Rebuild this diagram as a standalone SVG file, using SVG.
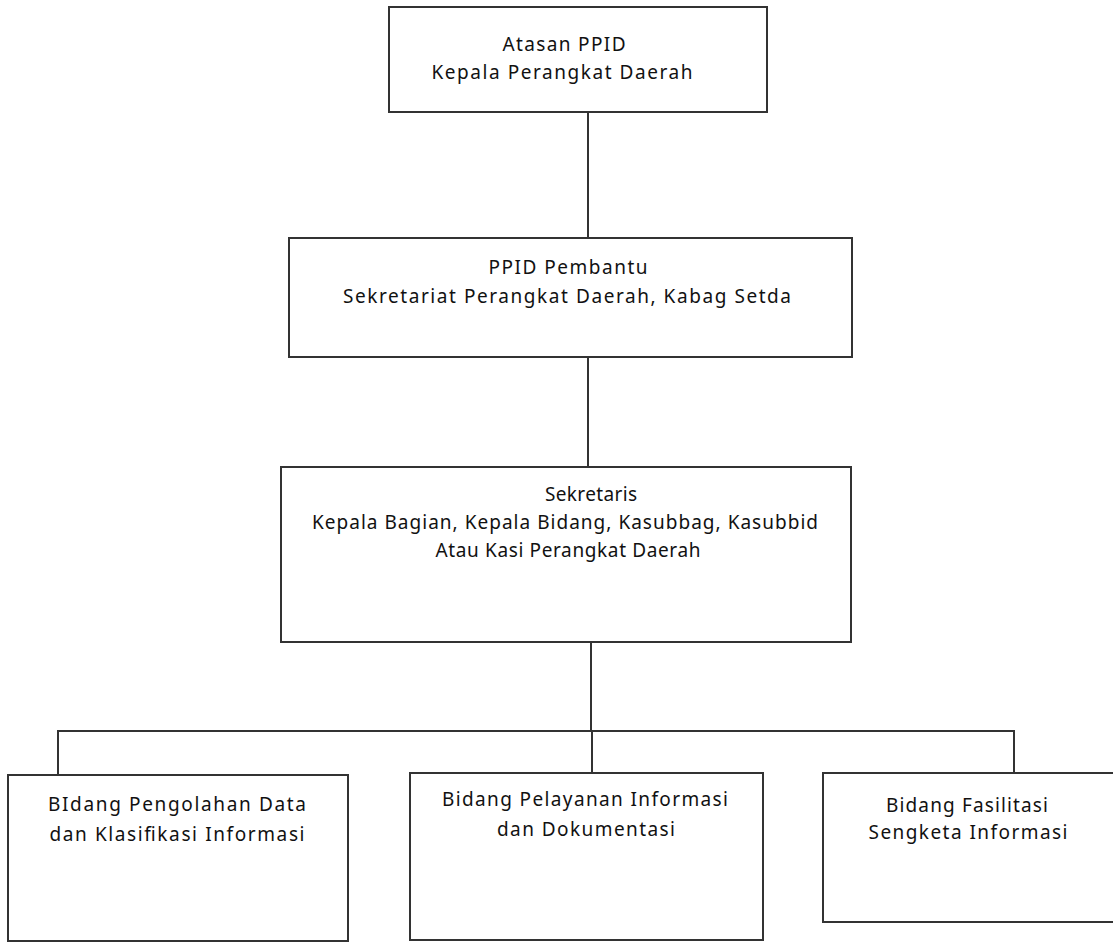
<svg xmlns="http://www.w3.org/2000/svg" width="1113" height="944" viewBox="0 0 1113 944">
<style>
.box{fill:#fff;stroke:#333;stroke-width:2}
.ln{stroke:#333;stroke-width:2;fill:none}
text{font-family:"Noto Sans","Open Sans",sans-serif;font-size:19px;fill:#111;text-anchor:middle}
</style>
<rect width="1113" height="944" fill="#fff"/>
<g id="connectors">
<line class="ln" x1="588" y1="112" x2="588" y2="238"/>
<line class="ln" x1="588" y1="357" x2="588" y2="467"/>
<line class="ln" x1="591" y1="642" x2="591" y2="731"/>
<polyline class="ln" points="58,775 58,731 1014,731 1014,773"/>
<line class="ln" x1="592" y1="731" x2="592" y2="773"/>
</g>
<g id="n1">
<rect class="box" x="389" y="7" width="378" height="105"/>
<text x="564" y="51" textLength="123">Atasan PPID</text>
<text x="562" y="79" textLength="261">Kepala Perangkat Daerah</text>
</g>
<g id="n2">
<rect class="box" x="289" y="238" width="563" height="119"/>
<text x="568" y="274" textLength="159">PPID Pembantu</text>
<text x="567" y="303" textLength="448">Sekretariat Perangkat Daerah, Kabag Setda</text>
</g>
<g id="n3">
<rect class="box" x="281" y="467" width="570" height="175"/>
<text x="591" y="501" textLength="92">Sekretaris</text>
<text x="565" y="529" textLength="506">Kepala Bagian, Kepala Bidang, Kasubbag, Kasubbid</text>
<text x="568" y="557" textLength="265">Atau Kasi Perangkat Daerah</text>
</g>
<g id="n4">
<rect class="box" x="8" y="775" width="340" height="166"/>
<text x="177" y="811" textLength="258">BIdang Pengolahan Data</text>
<text x="177" y="841" textLength="255">dan Klasifikasi Informasi</text>
</g>
<g id="n5">
<rect class="box" x="410" y="773" width="353" height="167"/>
<text x="585" y="806" textLength="286">Bidang Pelayanan Informasi</text>
<text x="586" y="836" textLength="178">dan Dokumentasi</text>
</g>
<g id="n6">
<rect class="box" x="823" y="773" width="300" height="149"/>
<text x="967" y="812" textLength="162">Bidang Fasilitasi</text>
<text x="968" y="839" textLength="199">Sengketa Informasi</text>
</g>
</svg>
